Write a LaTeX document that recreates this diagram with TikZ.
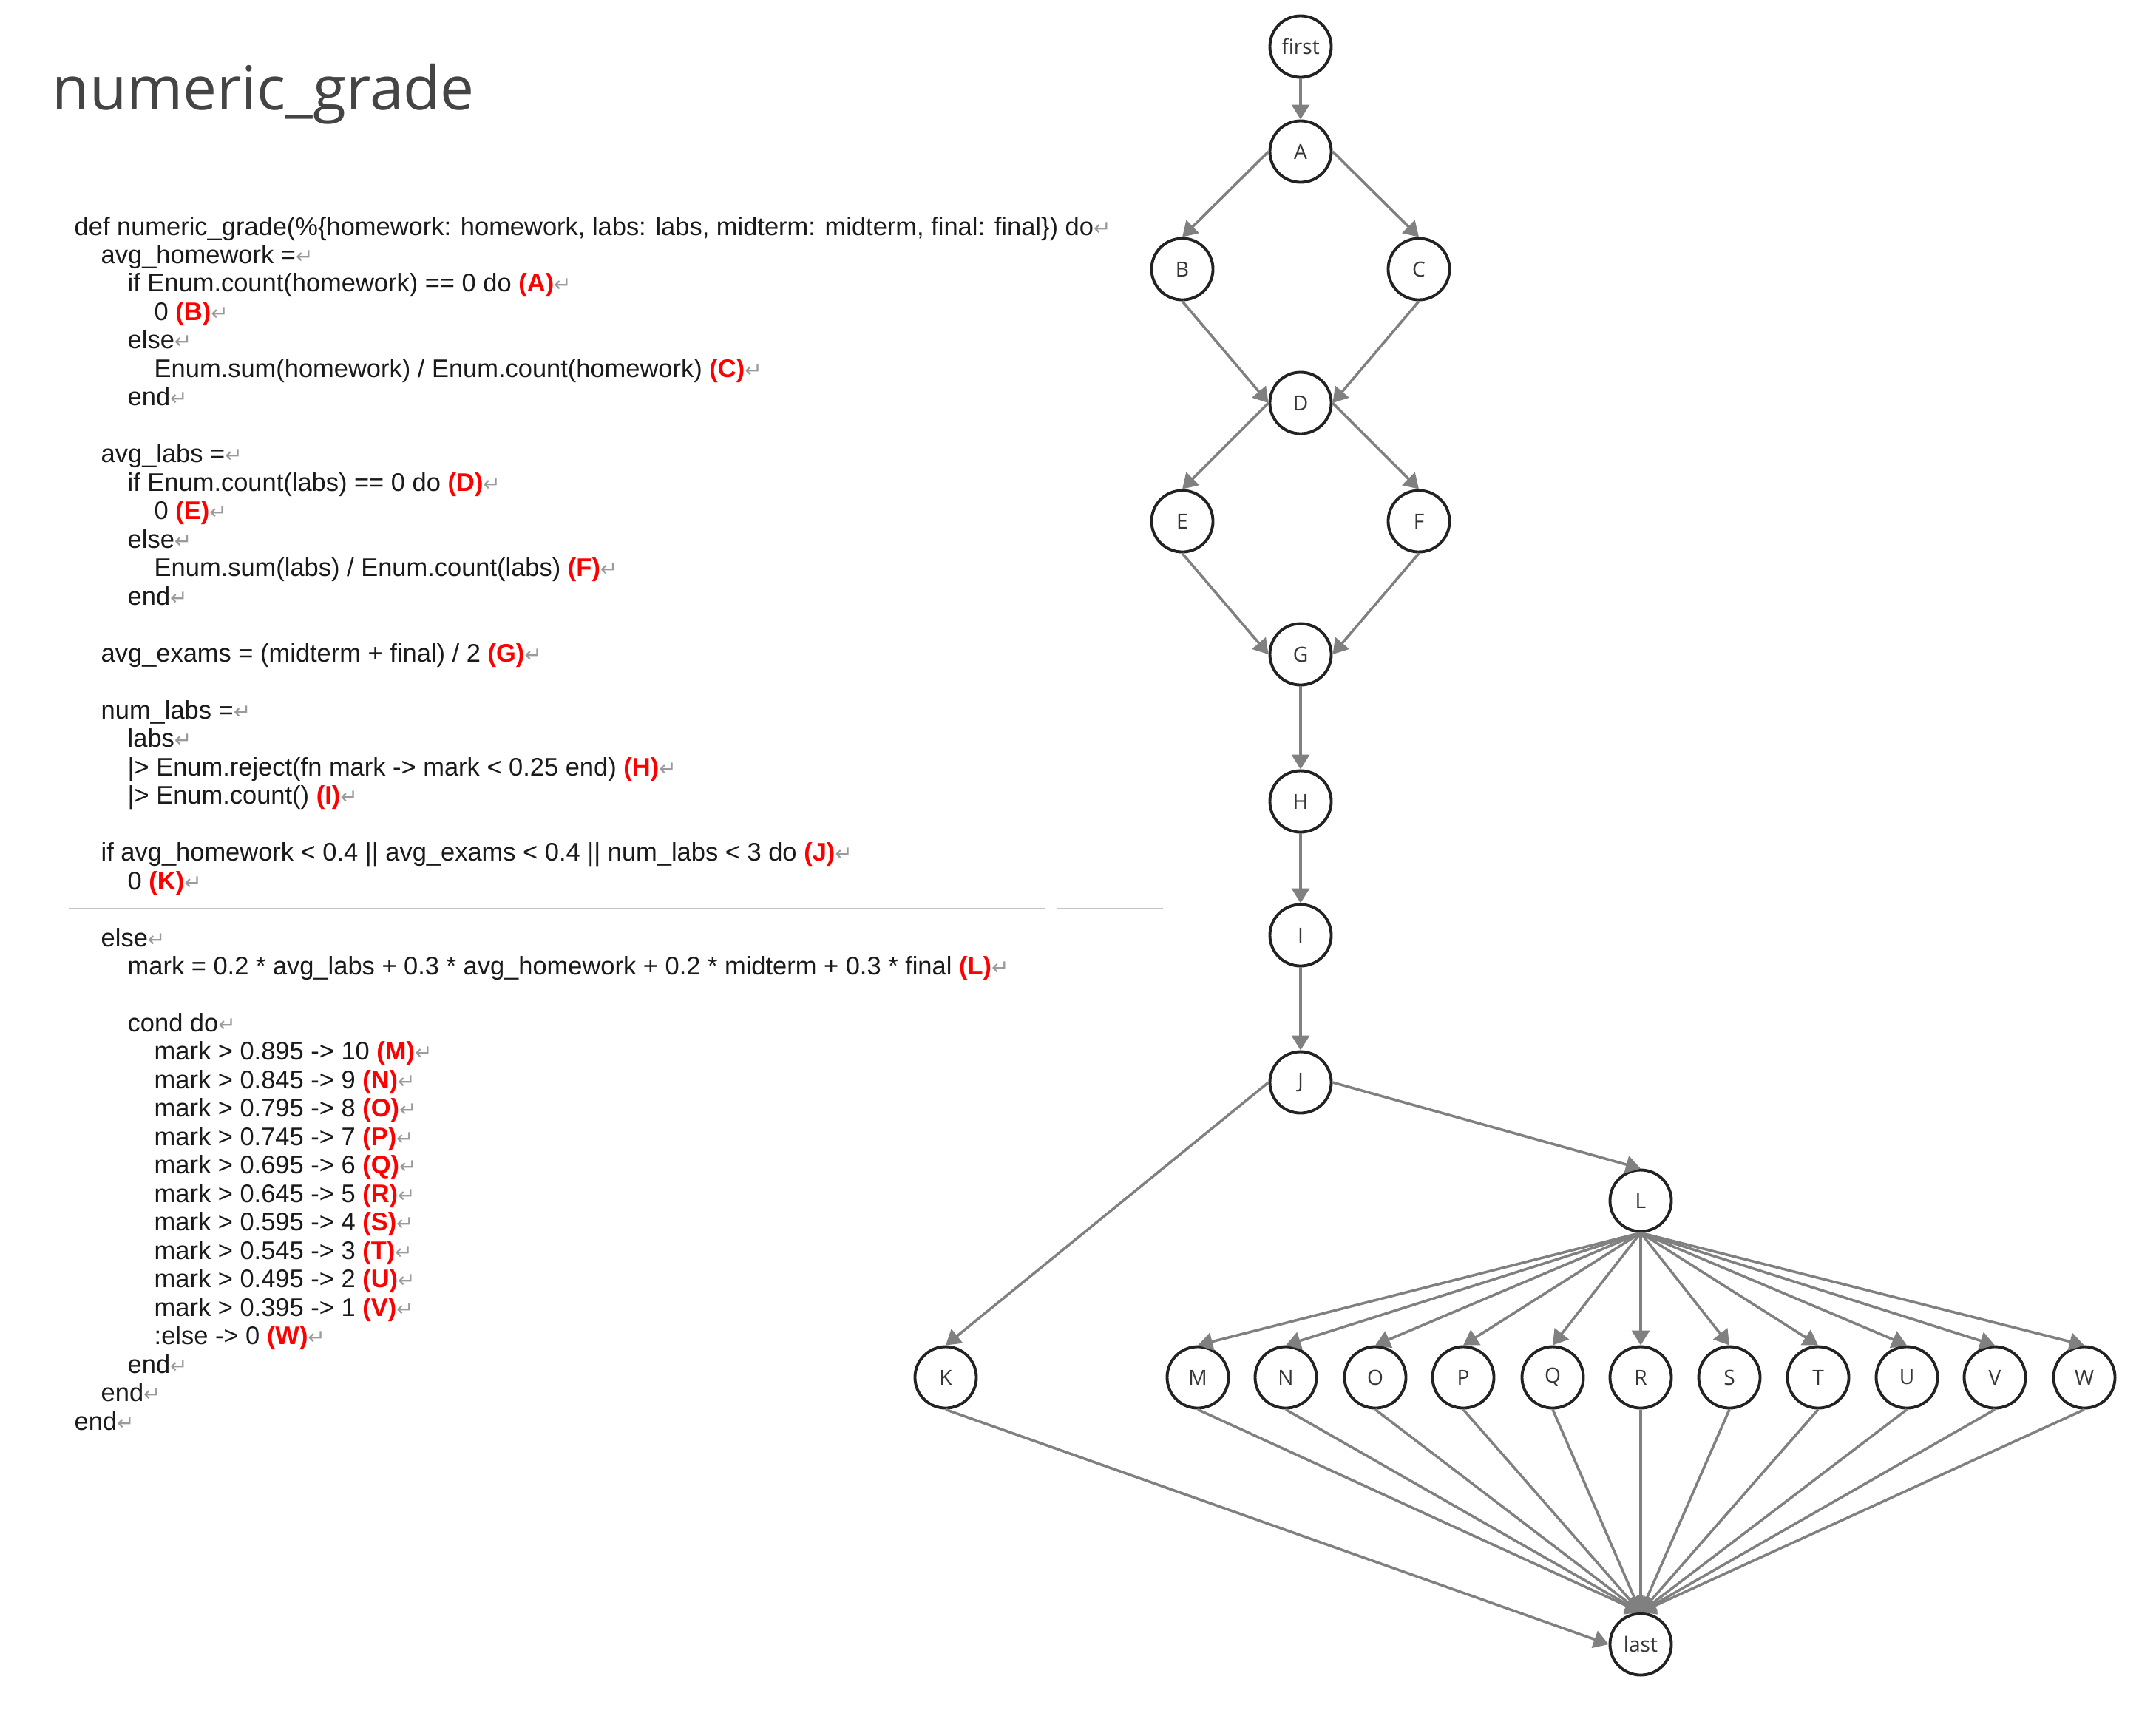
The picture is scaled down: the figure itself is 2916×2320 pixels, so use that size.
\documentclass[tikz,border=0pt]{standalone}
\usepackage{fontspec}
\setmainfont{Liberation Sans}
\newfontfamily\titlefont{Open Sans}
\newfontfamily\codefont{Liberation Sans}
\newfontfamily\symfont{DejaVu Sans}
\usetikzlibrary{arrows.meta}
\definecolor{edgegray}{HTML}{808080}
\definecolor{nodeborder}{HTML}{222222}
\definecolor{titlegray}{HTML}{444444}
\definecolor{codeblack}{HTML}{1A1A1A}
\definecolor{retgray}{HTML}{9A9A9A}
\definecolor{sepgray}{HTML}{C4C4C4}
\newcommand\rt{{\symfont\color{retgray}\fontsize{8}{9}\selectfont ↵}}
\newcommand\lab[1]{\textcolor{red}{\textbf{(#1)}}}
\newcommand\codeln[4]{\node[codetext] (#1) at ({100+36*#2},{318+38.48*#3}) {#4\rt};}
\tikzset{
  codetext/.style={anchor=base west, inner sep=0pt, font=\codefont\fontsize{9.8}{11}\selectfont, text=codeblack},
  vnode/.style={circle, draw=nodeborder, line width=1.1pt, minimum size=0.83cm, inner sep=0pt, fill=white,
    font=\titlefont\fontsize{8}{9}\selectfont, text=titlegray!80!black},
  edge/.style={draw=edgegray, line width=1pt, -{Triangle[length=0.2cm,width=0.24cm]}},
}
\begin{document}
\begin{tikzpicture}[x=0.01cm, y=-0.01cm]
\useasboundingbox (0,0) rectangle (2916,2320);
\node[anchor=base west, inner sep=0pt, font=\titlefont\fontsize{23.3}{28}\selectfont, text=titlegray] (title) at (70,148) {numeric\_grade};

% code
\codeln{c0}{0}{0}{def numeric\_grade(\%\{homework: homework, labs: labs, midterm: midterm, final: final\}) do}
\codeln{c1}{1}{1}{avg\_homework =}
\codeln{c2}{2}{2}{if Enum.count(homework) == 0 do \lab{A}}
\codeln{c3}{3}{3}{0 \lab{B}}
\codeln{c4}{2}{4}{else}
\codeln{c5}{3}{5}{Enum.sum(homework) / Enum.count(homework) \lab{C}}
\codeln{c6}{2}{6}{end}
\codeln{c8}{1}{8}{avg\_labs =}
\codeln{c9}{2}{9}{if Enum.count(labs) == 0 do \lab{D}}
\codeln{c10}{3}{10}{0 \lab{E}}
\codeln{c11}{2}{11}{else}
\codeln{c12}{3}{12}{Enum.sum(labs) / Enum.count(labs) \lab{F}}
\codeln{c13}{2}{13}{end}
\codeln{c15}{1}{15}{avg\_exams = (midterm + final) / 2 \lab{G}}
\codeln{c17}{1}{17}{num\_labs =}
\codeln{c18}{2}{18}{labs}
\codeln{c19}{2}{19}{|> Enum.reject(fn mark -> mark < 0.25 end) \lab{H}}
\codeln{c20}{2}{20}{|> Enum.count() \lab{I}}
\codeln{c22}{1}{22}{if avg\_homework < 0.4 || avg\_exams < 0.4 || num\_labs < 3 do \lab{J}}
\codeln{c23}{2}{23}{0 \lab{K}}
\codeln{c25}{1}{25}{else}
\codeln{c26}{2}{26}{mark = 0.2 * avg\_labs + 0.3 * avg\_homework + 0.2 * midterm + 0.3 * final \lab{L}}
\codeln{c28}{2}{28}{cond do}
\codeln{c29}{3}{29}{mark > 0.895 -> 10 \lab{M}}
\codeln{c30}{3}{30}{mark > 0.845 -> 9 \lab{N}}
\codeln{c31}{3}{31}{mark > 0.795 -> 8 \lab{O}}
\codeln{c32}{3}{32}{mark > 0.745 -> 7 \lab{P}}
\codeln{c33}{3}{33}{mark > 0.695 -> 6 \lab{Q}}
\codeln{c34}{3}{34}{mark > 0.645 -> 5 \lab{R}}
\codeln{c35}{3}{35}{mark > 0.595 -> 4 \lab{S}}
\codeln{c36}{3}{36}{mark > 0.545 -> 3 \lab{T}}
\codeln{c37}{3}{37}{mark > 0.495 -> 2 \lab{U}}
\codeln{c38}{3}{38}{mark > 0.395 -> 1 \lab{V}}
\codeln{c39}{3}{39}{:else -> 0 \lab{W}}
\codeln{c40}{2}{40}{end}
\codeln{c41}{1}{41}{end}
\codeln{c42}{0}{42}{end}

\draw[sepgray, line width=0.6pt] (93,1229) -- (1413,1229) (1430,1229) -- (1573,1229);

% graph nodes
\node[vnode] (first) at (1759,63) {first};
\node[vnode] (A) at (1759,205) {A};
\node[vnode] (B) at (1599,364) {B};
\node[vnode] (C) at (1919,364) {C};
\node[vnode] (D) at (1759,545) {D};
\node[vnode] (E) at (1599,705) {E};
\node[vnode] (F) at (1919,705) {F};
\node[vnode] (G) at (1759,885) {G};
\node[vnode] (H) at (1759,1084) {H};
\node[vnode] (I) at (1759,1265) {I};
\node[vnode] (J) at (1759,1464) {J};
\node[vnode] (L) at (2219,1624) {L};
\node[vnode] (K) at (1279,1863) {K};
\foreach \n/\x in {M/1620,N/1739,O/1860,P/1979,Q/2100,R/2219,S/2339,T/2459,U/2579,V/2698,W/2819}
  \node[vnode] (\n) at (\x,1863) {\n};
\node[vnode] (last) at (2219,2224) {last};

% edges
\draw[edge] (first.south) -- (A.north);
\draw[edge] (A.west) -- (B.north);
\draw[edge] (A.east) -- (C.north);
\draw[edge] (B.south) -- (D.west);
\draw[edge] (C.south) -- (D.east);
\draw[edge] (D.west) -- (E.north);
\draw[edge] (D.east) -- (F.north);
\draw[edge] (E.south) -- (G.west);
\draw[edge] (F.south) -- (G.east);
\draw[edge] (G.south) -- (H.north);
\draw[edge] (H.south) -- (I.north);
\draw[edge] (I.south) -- (J.north);
\draw[edge] (J.west) -- (K.north);
\draw[edge] (J.east) -- (L.north);
\foreach \n in {M,N,O,P,Q,R,S,T,U,V,W}
  \draw[edge] (L.south) -- (\n.north);
\draw[edge] (K.south) -- (last.west);
\foreach \n in {M,N,O,P,Q,R,S,T,U,V,W}
  \draw[edge] (\n.south) -- (last.north);
\end{tikzpicture}
\end{document}
